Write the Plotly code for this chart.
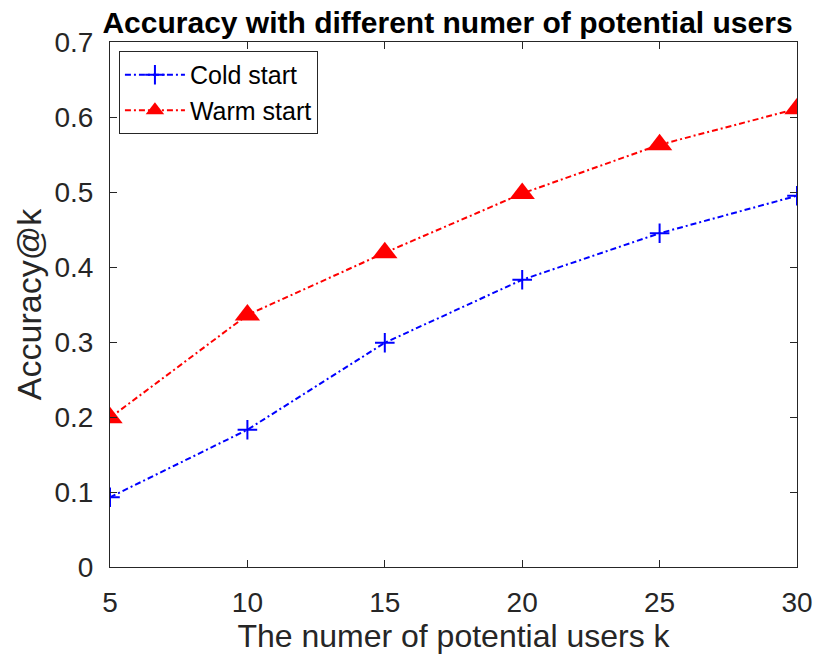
import plotly.graph_objects as go

# values
k_values = [5, 10, 15, 20, 25, 30]
cold_start = [0.093, 0.183, 0.299, 0.383, 0.445, 0.495]
warm_start = [0.199, 0.336, 0.419, 0.498, 0.563, 0.611]
y_ticks = [0, 0.1, 0.2, 0.3, 0.4, 0.5, 0.6, 0.7]
y_tick_labels = ["0", "0.1", "0.2", "0.3", "0.4", "0.5", "0.6", "0.7"]

font_family = "Liberation Sans, Arial, sans-serif"
axis_color = "#262626"
dash_dot = "6px,3px,2px,3px"

fig = go.Figure()
fig.add_trace(go.Scatter(
    x=k_values, y=cold_start, mode="lines+markers", name="Cold start",
    line=dict(color="#0000FF", width=2, dash=dash_dot),
    marker=dict(symbol="cross-thin", size=14, line=dict(color="#0000FF", width=2)),
))
fig.add_trace(go.Scatter(
    x=k_values, y=warm_start, mode="lines+markers", name="Warm start",
    line=dict(color="#FF0000", width=2, dash=dash_dot),
    marker=dict(symbol="triangle-up", size=22, color="#FF0000"),
))

axis_common = dict(
    showline=True, linecolor=axis_color, linewidth=1, mirror="ticks",
    ticks="inside", ticklen=7, tickcolor=axis_color, showgrid=False, zeroline=False,
    tickfont=dict(size=28, color=axis_color, family=font_family),
)

# page has an 8px body margin, so the figure is a little smaller than the window
fig.update_layout(
    width=822, height=652,
    margin=dict(l=102, r=33, t=34, b=93),
    paper_bgcolor="white", plot_bgcolor="white",
    font=dict(family=font_family, color=axis_color),
    title=dict(
        text="<b>Accuracy with different numer of potential users</b>",
        x=0.5347, xanchor="center", y=0.9785, yanchor="middle",
        font=dict(size=30, color="black", family=font_family),
    ),
    xaxis=dict(
        range=[5, 30], tickvals=k_values, ticklabelstandoff=10,
        title=dict(text="The numer of potential users k", font=dict(size=32, color=axis_color), standoff=2),
        **axis_common,
    ),
    yaxis=dict(
        range=[0, 0.7], tickvals=y_ticks, ticktext=y_tick_labels, ticklabelstandoff=10,
        title=dict(text="Accuracy@k", font=dict(size=34, color=axis_color), standoff=2),
        **axis_common,
    ),
    legend=dict(
        x=0.013, y=0.983, xanchor="left", yanchor="top",
        bgcolor="white", bordercolor=axis_color, borderwidth=1,
        font=dict(size=25, color="black", family=font_family),
        itemwidth=60, tracegroupgap=0,
    ),
)

fig.write_html("out.html")
